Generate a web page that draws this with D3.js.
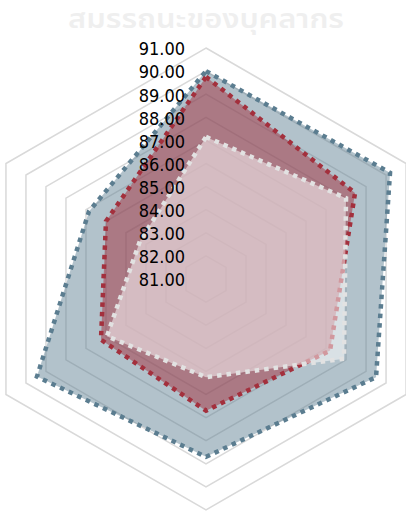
<!DOCTYPE html>
<html>
<head>
<meta charset="utf-8">
<script src="https://cdn.jsdelivr.net/npm/d3@7"></script>
<style>
  html, body { margin: 0; padding: 0; background: #ffffff; }
  svg { display: block; }
</style>
</head>
<body>
<div id="chart"></div>
<script>
// ---- data ----
const title = "สมรรถนะของบุคลากร";
const categories = ["ด้าน 1", "ด้าน 2", "ด้าน 3", "ด้าน 4", "ด้าน 5", "ด้าน 6"];
const tickValues = [81, 82, 83, 84, 85, 86, 87, 88, 89, 90, 91];
const seriesNames = ["ชุด 1", "ชุด 2", "ชุด 3"];
const seriesBlue = [90.0, 90.2, 89.5, 88.7, 89.45, 86.85];
const seriesRed = [89.75, 88.45, 87.2, 86.7, 86.25, 86.0];
const seriesWhite = [87.15, 88.0, 87.9, 85.25, 85.95, 84.3];
const seriesColors = ["#5b7d90", "#a3303d", "#e2e2e2"];
const fillColors = ["#5b7d90", "#a3303d", "#ffffff"];
const fillOpacity = [0.47, 0.5, 0.5];

// ---- layout ----
const W = 406, H = 511;
const cx = 206, cy = 279, R = 231;

const svg = d3.select("#chart").append("svg")
  .attr("width", W).attr("height", H);

svg.append("text")
  .attr("x", cx).attr("y", 28)
  .attr("text-anchor", "middle")
  .attr("font-family", "'Noto Sans Thai', 'Noto Sans', sans-serif")
  .attr("font-weight", 600)
  .attr("font-size", 26)
  .attr("textLength", 276)
  .attr("lengthAdjust", "spacingAndGlyphs")
  .attr("fill", "#efefef")
  .text(title);

const r = d3.scaleLinear().domain([tickValues[0], tickValues[tickValues.length - 1]]).range([0, R]);
const angle = d3.scaleBand().domain(categories).range([0, 2 * Math.PI]).align(0);
const angleOf = c => angle(c);

const g = svg.append("g").attr("transform", `translate(${cx},${cy})`);

const radial = d3.lineRadial()
  .angle(d => angleOf(d.c))
  .radius(d => r(d.v))
  .curve(d3.curveLinearClosed);

// grid rings
g.append("g").selectAll("path")
  .data(tickValues.slice(1))
  .join("path")
  .attr("d", t => radial(categories.map(c => ({ c, v: t }))))
  .attr("fill", "none")
  .attr("stroke", "#d9d9d9")
  .attr("stroke-width", 1.5);

// series
const allSeries = [seriesBlue, seriesRed, seriesWhite];
allSeries.forEach((vals, i) => {
  const pts = categories.map((c, k) => ({ c, v: vals[k] }));
  g.append("path")
    .attr("d", radial(pts))
    .attr("fill", fillColors[i])
    .attr("fill-opacity", fillOpacity[i])
    .attr("stroke", "none");
  g.append("path")
    .attr("d", radial(pts))
    .attr("fill", "none")
    .attr("stroke", seriesColors[i])
    .attr("stroke-width", 4.5)
    .attr("stroke-dasharray", "4.5 5")
    .attr("stroke-linejoin", "miter");
});

// tick labels
g.append("g").selectAll("text")
  .data(tickValues)
  .join("text")
  .attr("x", -21)
  .attr("y", t => -r(t) + 1)
  .attr("dy", "0.35em")
  .attr("text-anchor", "end")
  .attr("font-family", "'DejaVu Sans Condensed', 'Liberation Sans', sans-serif")
  .attr("font-size", 18)
  .attr("fill", "#000000")
  .text(t => d3.format(".2f")(t));
</script>
</body>
</html>
